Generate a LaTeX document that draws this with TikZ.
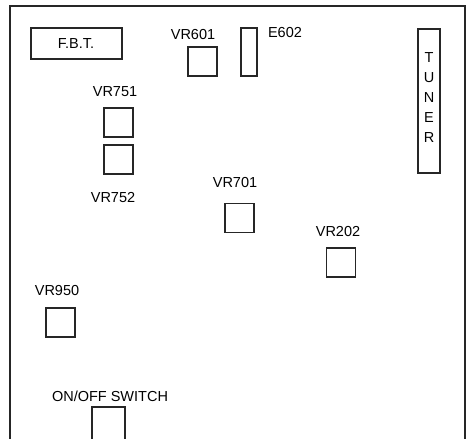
\documentclass[tikz,border=0pt]{standalone}
\usepackage{fontspec}
\setmainfont{Liberation Sans}
\begin{document}
\begin{tikzpicture}[x=1pt,y=-1pt,
  line width=1.2pt,
  part/.style={draw=black!85, line width=1.2pt, inner sep=0pt, minimum width=29pt, minimum height=29pt},
  lbl/.style={inner sep=0pt, font=\fontsize{14.5}{17}\selectfont, text=black}]
\useasboundingbox (0,0) rectangle (469,439);
% outer frame (open at the bottom)
\coordinate (fbl) at (10,439);
\coordinate (ftl) at (10,6);
\coordinate (ftr) at (465,6);
\coordinate (fbr) at (465,439);
\draw[black!85] (fbl) -- (ftl) -- (ftr) -- (fbr);
% F.B.T.
\node[part, minimum width=91pt, minimum height=31pt] (fbt) at (76.5,43.5) {};
\node[lbl] (fbtl) at (76,44) {F.B.T.};
% VR601
\node[lbl] (vr601l) at (193,35) {VR601};
\node[part] (vr601) at (202.5,61.5) {};
% E602
\node[part, minimum width=16pt, minimum height=48pt] (e602) at (249,52) {};
\node[lbl] (e602l) at (285,33) {E602};
% TUNER
\node[part, minimum width=22pt, minimum height=144pt] (tuner) at (429,101) {};
\node[lbl, align=center] (tunerl) at (429,98) {T\\[3pt]U\\[3pt]N\\[3pt]E\\[3pt]R};
% VR751 / VR752
\node[lbl] (vr751l) at (115,92) {VR751};
\node[part] (vr751) at (118.5,122.5) {};
\node[part] (vr752) at (118.5,159.5) {};
\node[lbl] (vr752l) at (113,198) {VR752};
% VR701
\node[lbl] (vr701l) at (235,183) {VR701};
\node[part] (vr701) at (239.5,218) {};
% VR202
\node[lbl] (vr202l) at (338,232) {VR202};
\node[part] (vr202) at (341,262.5) {};
% VR950
\node[lbl] (vr950l) at (57,291) {VR950};
\node[part] (vr950) at (60.5,322.5) {};
% ON/OFF switch
\node[lbl] (swl) at (110,396) {ON/OFF SWITCH};
\coordinate (sw1) at (92,439);
\coordinate (sw2) at (92,407);
\coordinate (sw3) at (125,407);
\coordinate (sw4) at (125,439);
\draw[black!85] (sw1) -- (sw2) -- (sw3) -- (sw4);
\end{tikzpicture}
\end{document}
